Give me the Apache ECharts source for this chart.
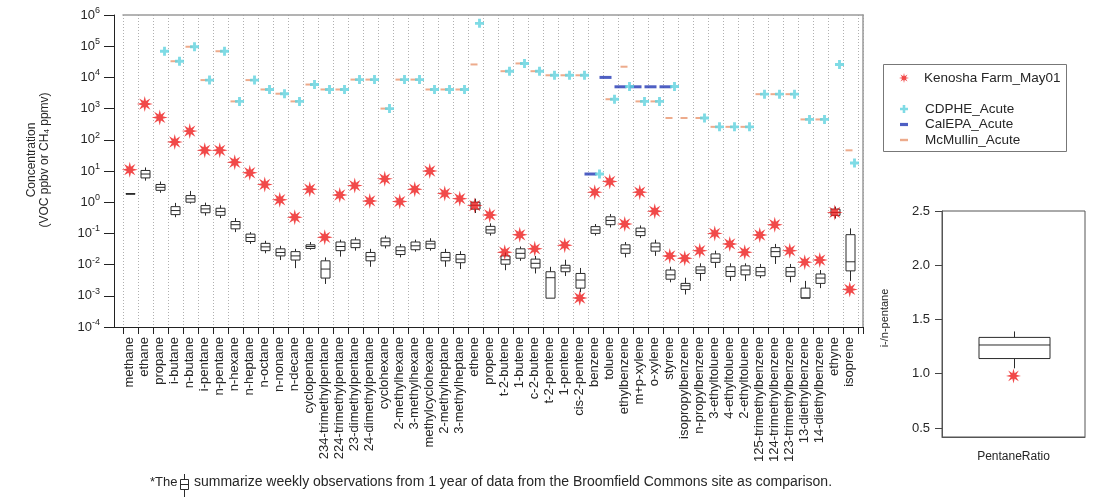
<!DOCTYPE html>
<html>
<head>
<meta charset="utf-8">
<script src="https://cdn.jsdelivr.net/npm/echarts@6/dist/echarts.min.js"></script>
<style>
  html, body { margin: 0; padding: 0; background: #fff; }
  #chart { width: 1096px; height: 500px; }
</style>
</head>
<body>
<div id="chart"></div>
<script>
// ---- data ----
const categories = [
  'methane', 'ethane', 'propane', 'i-butane', 'n-butane', 'i-pentane', 'n-pentane',
  'n-hexane', 'n-heptane', 'n-octane', 'n-nonane', 'n-decane', 'cyclopentane',
  '234-trimethylpentane', '224-trimethylpentane', '23-dimethylpentane', '24-dimethylpentane',
  'cyclohexane', '2-methylhexane', '3-methylhexane', 'methylcyclohexane', '2-methylheptane',
  '3-methylheptane', 'ethene', 'propene', 't-2-butene', '1-butene', 'c-2-butene',
  't-2-pentene', '1-pentene', 'cis-2-pentene', 'benzene', 'toluene', 'ethylbenzene',
  'm+p-xylene', 'o-xylene', 'styrene', 'isopropylbenzene', 'n-propylbenzene',
  '3-ethyltoluene', '4-ethyltoluene', '2-ethyltoluene', '125-trimethylbenzene',
  '124-trimethylbenzene', '123-trimethylbenzene', '13-diethylbenzene', '14-diethylbenzene',
  'ethyne', 'isoprene'
];

// Kenosha Farm sample, 1 May (ppbv; methane in ppmv)
const kenosha = [
  11, 1400, 520, 85, 190, 46, 46, 19, 8.8, 3.7, 1.2, 0.33, 2.6,
  0.075, 1.7, 3.4, 1.1, 5.6, 1.05, 2.6, 10, 1.9, 1.3, 0.78, 0.39,
  0.025, 0.09, 0.032, null, 0.042, 0.00085, 2.1, 4.6, 0.2, 2.1, 0.51,
  0.019, 0.016, 0.028, 0.10, 0.046, 0.025, 0.089, 0.19, 0.028, 0.012,
  0.014, 0.47, 0.0016
];

// Acute health guideline levels
const cdphe = [
  null, null, 69000, 33000, 96000, 8200, 69000, 1700, 8200, 4100, 3000, 1700, 5900,
  4100, 4100, 8500, 8500, 1000, 8500, 8500, 4100, 4100, 4100, 540000, null,
  15800, 28000, 15800, 11700, 11700, 11700, 8, 2000, 5100, 1700, 1700,
  5100, null, 500, 260, 260, 260, 2900, 2900, 2900, 450,
  450, 26000, 18
];
const calepa = [
  null, null, null, null, null, null, null, null, null, null, null, null, null,
  null, null, null, null, null, null, null, null, null, null, null, null,
  null, null, null, null, null, null, 8, 10000, 5000, 5000, 5000,
  5000, null, null, null, null, null, null, null, null, null,
  null, null, null
];
const mcmullin = [
  null, null, null, 33000, 96000, 8200, 69000, 1700, 8200, 4100, 3000, 1700, 5900,
  4100, 4100, 8500, 8500, 1000, 8500, 8500, 4100, 4100, 4100, 26000, null,
  15800, 28000, 15800, 11700, 11700, 11700, null, 2000, 22000, 1700, 1700,
  500, 500, 500, 260, 260, 260, 2900, 2900, 2900, 450,
  450, null, 46
];

// Broomfield Commons weekly observations: [low whisker, Q1, median, Q3, high whisker]
const broomfield = [
  [1.85, 1.8, 1.85, 1.9, 1.85],
  [4.9, 6.0, 8.0, 10.4, 13],
  [2.0, 2.4, 3.0, 3.7, 4.6],
  [0.33, 0.40, 0.54, 0.72, 0.95],
  [0.9, 1.0, 1.28, 1.63, 2.3],
  [0.37, 0.46, 0.61, 0.78, 0.97],
  [0.31, 0.38, 0.5, 0.64, 0.8],
  [0.11, 0.14, 0.19, 0.24, 0.31],
  [0.046, 0.055, 0.074, 0.095, 0.11],
  [0.023, 0.028, 0.037, 0.048, 0.058],
  [0.014, 0.019, 0.0245, 0.032, 0.040],
  [0.0077, 0.014, 0.019, 0.026, 0.032],
  [0.03, 0.033, 0.038, 0.043, 0.053],
  [0.0024, 0.0037, 0.0072, 0.0132, 0.017],
  [0.018, 0.028, 0.038, 0.053, 0.063],
  [0.028, 0.035, 0.048, 0.062, 0.075],
  [0.0085, 0.0132, 0.018, 0.0245, 0.032],
  [0.033, 0.04, 0.054, 0.071, 0.085],
  [0.017, 0.021, 0.028, 0.037, 0.046],
  [0.026, 0.03, 0.04, 0.053, 0.063],
  [0.028, 0.033, 0.046, 0.056, 0.07],
  [0.0085, 0.0132, 0.017, 0.0245, 0.032],
  [0.0072, 0.0115, 0.015, 0.021, 0.027],
  [0.45, 0.6, 0.8, 1.0, 1.3],
  [0.085, 0.102, 0.13, 0.168, 0.21],
  [0.0066, 0.0103, 0.0143, 0.019, 0.0245],
  [0.0132, 0.016, 0.023, 0.032, 0.038],
  [0.0052, 0.0078, 0.011, 0.015, 0.019],
  [0.00084, 0.00084, 0.0038, 0.0059, 0.0085],
  [0.0043, 0.0059, 0.0078, 0.0095, 0.0143],
  [0.0013, 0.00176, 0.0032, 0.0052, 0.0078],
  [0.085, 0.10, 0.129, 0.165, 0.2],
  [0.155, 0.19, 0.26, 0.34, 0.42],
  [0.017, 0.023, 0.032, 0.043, 0.053],
  [0.072, 0.085, 0.114, 0.148, 0.18],
  [0.019, 0.027, 0.037, 0.049, 0.063],
  [0.0027, 0.0034, 0.0047, 0.0067, 0.0085],
  [0.0011, 0.0016, 0.0021, 0.0025, 0.0038],
  [0.003, 0.0052, 0.0067, 0.0085, 0.011],
  [0.0078, 0.0118, 0.016, 0.022, 0.028],
  [0.003, 0.0042, 0.006, 0.0085, 0.011],
  [0.003, 0.0047, 0.0067, 0.0091, 0.011],
  [0.0037, 0.0044, 0.0059, 0.0081, 0.0105],
  [0.0105, 0.018, 0.026, 0.035, 0.046],
  [0.0027, 0.0042, 0.0059, 0.0081, 0.0105],
  [0.00084, 0.00084, 0.00086, 0.00176, 0.003],
  [0.00176, 0.0025, 0.0037, 0.005, 0.0067],
  [0.3, 0.38, 0.47, 0.6, 0.72],
  [0.003, 0.0063, 0.0123, 0.091, 0.145]
];

// i-/n-pentane ratio panel
const ratioCategories = ['PentaneRatio'];
const ratioBox = [1.05, 1.14, 1.265, 1.335, 1.39];
const ratioKenosha = 0.98;
const ratioTicks = [0.5, 1.0, 1.5, 2.0, 2.5];

// ---- styling helpers ----
const FONT = '"Liberation Sans", Arial, Helvetica, sans-serif';
const TEXT = '#262626';
const RED = '#ee1c1c';
const CYAN = '#5fd2de';
const BLUE = '#2237b4';
const ORANGE = '#e8966f';

function starPath(points, inner) {
  let d = '';
  for (let i = 0; i < points * 2; i++) {
    const r = i % 2 ? inner : 1;
    const a = Math.PI * i / points - Math.PI / 2;
    d += (i ? 'L' : 'M') + (r * Math.cos(a)).toFixed(3) + ',' + (r * Math.sin(a)).toFixed(3);
  }
  return 'path://' + d + 'Z';
}
const STAR = starPath(8, 0.4);
const PLUS = 'path://M-1,-0.32L-0.32,-0.32L-0.32,-1L0.32,-1L0.32,-0.32L1,-0.32L1,0.32L0.32,0.32L0.32,1L-0.32,1L-0.32,0.32L-1,0.32Z';

function pairs(arr) {
  const out = [];
  arr.forEach((v, i) => { if (v != null) out.push([i, v]); });
  return out;
}

function boxRenderer(boxWidth) {
  return function (params, api) {
    const x = api.value(0);
    const lo = api.coord([x, api.value(1)]);
    const q1 = api.coord([x, api.value(2)]);
    const md = api.coord([x, api.value(3)]);
    const q3 = api.coord([x, api.value(4)]);
    const hi = api.coord([x, api.value(5)]);
    const cx = Math.round(lo[0]) + 0.5;
    const half = boxWidth / 2;
    const st = { stroke: '#2b2b2b', lineWidth: 1 };
    return {
      type: 'group',
      children: [
        { type: 'line', shape: { x1: cx, y1: hi[1], x2: cx, y2: q3[1] }, style: st },
        { type: 'line', shape: { x1: cx, y1: q1[1], x2: cx, y2: lo[1] }, style: st },
        { type: 'rect', shape: { x: cx - half, y: q3[1], width: boxWidth, height: Math.max(q1[1] - q3[1], 0.6) },
          style: { fill: '#fff', stroke: '#2b2b2b', lineWidth: 1 } },
        { type: 'line', shape: { x1: cx - half, y1: md[1], x2: cx + half, y2: md[1] }, style: st }
      ]
    };
  };
}

const X_MIN = -0.45, X_MAX = 48.883;

const chart = echarts.init(document.getElementById('chart'), null, { renderer: 'canvas' });

const option = {
  backgroundColor: '#fff',
  animation: false,
  textStyle: { fontFamily: FONT, color: TEXT },
  grid: [
    { left: 123, top: 15, width: 740, height: 312 },
    { left: 942, top: 211, width: 143, height: 226, show: true, borderColor: '#555', borderWidth: 1 }
  ],
  xAxis: [
    {
      type: 'value', gridIndex: 0, min: X_MIN, max: X_MAX, interval: 1,
      axisLine: { show: true, onZero: false, lineStyle: { color: '#222', width: 1 } },
      axisTick: { show: true, length: 7, lineStyle: { color: '#222' } },
      splitLine: { show: true, lineStyle: { color: '#b0b0b0', type: [1, 2], width: 1 } },
      axisLabel: {
        customValues: categories.map((_, i) => i),
        formatter: v => categories[v],
        rotate: 90, fontSize: 13, margin: 10, color: TEXT, fontFamily: FONT
      }
    },
    {
      type: 'value', gridIndex: 0, position: 'top', min: X_MIN, max: X_MAX,
      axisLine: { show: true, onZero: false, lineStyle: { color: '#9a9a9a', width: 1.5 } },
      axisTick: { show: false }, axisLabel: { show: false }, splitLine: { show: false }
    },
    {
      type: 'category', gridIndex: 1, data: ratioCategories, boundaryGap: true,
      axisLine: { show: true, lineStyle: { color: '#555' } },
      axisTick: { show: false },
      axisLabel: { fontSize: 12, margin: 14, color: TEXT, fontFamily: FONT }
    }
  ],
  yAxis: [
    {
      type: 'log', gridIndex: 0, logBase: 10, min: 1e-4, max: 1e6, interval: 1, splitNumber: 10,
      offset: 9,
      axisLine: { show: true, onZero: false, lineStyle: { color: '#222' } },
      axisTick: { show: true, length: 10, lineStyle: { color: '#222' } },
      minorTick: { show: false },
      splitLine: { show: false },
      axisLabel: {
        margin: 14, color: TEXT, fontFamily: FONT,
        formatter: v => '{b|10}{s|' + Math.round(Math.log10(v)) + '}',
        rich: {
          b: { fontSize: 13, fontFamily: FONT, color: TEXT },
          s: { fontSize: 9, fontFamily: FONT, color: TEXT, padding: [0, 0, 9, 0] }
        }
      }
    },
    {
      type: 'value', gridIndex: 0, position: 'right', min: 0, max: 1,
      axisLine: { show: true, onZero: false, lineStyle: { color: '#9a9a9a', width: 1.5 } },
      axisTick: { show: false }, axisLabel: { show: false }, splitLine: { show: false }
    },
    {
      type: 'value', gridIndex: 1, min: 0.417, max: 2.5,
      axisLine: { show: true, onZero: false, lineStyle: { color: '#555' } },
      axisTick: { show: true, customValues: ratioTicks, length: 7, lineStyle: { color: '#444' } },
      axisLabel: {
        customValues: ratioTicks, formatter: v => v.toFixed(1),
        fontSize: 13, margin: 12, color: TEXT, fontFamily: FONT
      },
      splitLine: { show: false }
    }
  ],
  legend: [
    {
      selectedMode: false, orient: 'vertical', left: 894, top: 66,
      itemWidth: 10, itemHeight: 10,
      textStyle: { fontSize: 13.5, color: TEXT, fontFamily: FONT, padding: [0, 0, 0, 10] },
      data: [{ name: 'Kenosha Farm_May01', icon: STAR }]
    },
    {
      selectedMode: false, orient: 'vertical', left: 895, top: 96.5,
      itemWidth: 8, itemHeight: 8, itemGap: 0.5,
      textStyle: { fontSize: 13.5, lineHeight: 15, color: TEXT, fontFamily: FONT, padding: [0, 0, 0, 12] },
      data: [
        { name: 'CDPHE_Acute', icon: PLUS },
        { name: 'CalEPA_Acute', icon: 'path://M0,0H10V4H0Z' },
        { name: 'McMullin_Acute', icon: 'path://M0,0H10V3H0Z' }
      ]
    }
  ],
  series: [
    {
      name: 'Broomfield Commons', type: 'custom', xAxisIndex: 0, yAxisIndex: 0, z: 2,
      renderItem: boxRenderer(9),
      encode: { x: 0, y: [1, 2, 3, 4, 5] },
      data: broomfield.map((b, i) => [i].concat(b))
    },
    {
      name: 'McMullin_Acute', type: 'scatter', xAxisIndex: 0, yAxisIndex: 0, z: 3,
      symbol: 'rect', symbolSize: [7, 2], symbolOffset: [-0.75, 0],
      itemStyle: { color: ORANGE },
      data: pairs(mcmullin)
    },
    {
      name: 'CalEPA_Acute', type: 'scatter', xAxisIndex: 0, yAxisIndex: 0, z: 3,
      symbol: 'rect', symbolSize: [12, 3], symbolOffset: [-4.25, 0],
      itemStyle: { color: BLUE },
      data: pairs(calepa)
    },
    {
      name: 'CDPHE_Acute', type: 'scatter', xAxisIndex: 0, yAxisIndex: 0, z: 4,
      symbol: PLUS, symbolSize: 9, symbolOffset: [4.75, 0],
      itemStyle: { color: CYAN },
      data: pairs(cdphe)
    },
    {
      name: 'Kenosha Farm_May01', type: 'scatter', xAxisIndex: 0, yAxisIndex: 0, z: 5,
      symbol: STAR, symbolSize: 16,
      itemStyle: { color: RED },
      data: pairs(kenosha)
    },
    {
      name: 'Broomfield ratio', type: 'custom', xAxisIndex: 2, yAxisIndex: 2, z: 2,
      renderItem: boxRenderer(71),
      encode: { x: 0, y: [1, 2, 3, 4, 5] },
      data: [[0].concat(ratioBox)]
    },
    {
      name: 'Kenosha ratio', type: 'scatter', xAxisIndex: 2, yAxisIndex: 2, z: 5,
      symbol: STAR, symbolSize: 15,
      itemStyle: { color: RED },
      data: [[0, ratioKenosha]]
    }
  ],
  graphic: [
    // join of the offset left axis with the bottom axis
    { type: 'line', z: 10, shape: { x1: 114, y1: 327.5, x2: 123, y2: 327.5 }, style: { stroke: '#222', lineWidth: 1 } },
    // y-axis title of the main panel
    {
      type: 'text', x: 38, y: 160, rotation: Math.PI / 2,
      style: {
        text: 'Concentration\n(VOC ppbv or CH{sub|4} ppmv)',
        font: '12px ' + FONT, fill: TEXT, align: 'center', verticalAlign: 'middle', lineHeight: 13,
        rich: { sub: { fontSize: 8, fontFamily: FONT, fill: TEXT, padding: [5, 0, 0, 0] } }
      }
    },
    // y-axis title of the ratio panel
    {
      type: 'text', x: 885, y: 318, rotation: Math.PI / 2,
      style: { text: 'i-/n-pentane', font: '11px ' + FONT, fill: TEXT, align: 'center', verticalAlign: 'middle' }
    },
    // legend frame
    { type: 'rect', shape: { x: 883.5, y: 64.5, width: 183, height: 87 }, style: { fill: 'none', stroke: '#777', lineWidth: 1 } },
    // footnote
    {
      type: 'text', x: 150, y: 482,
      style: { text: '*The', font: '13px ' + FONT, fill: TEXT, align: 'left', verticalAlign: 'middle' }
    },
    {
      type: 'group', x: 0, y: 0,
      children: [
        { type: 'line', shape: { x1: 184.5, y1: 474, x2: 184.5, y2: 479 }, style: { stroke: '#2b2b2b', lineWidth: 1 } },
        { type: 'rect', shape: { x: 180.5, y: 479.5, width: 8, height: 10 }, style: { fill: '#fff', stroke: '#2b2b2b', lineWidth: 1 } },
        { type: 'line', shape: { x1: 180.5, y1: 484.5, x2: 188.5, y2: 484.5 }, style: { stroke: '#2b2b2b', lineWidth: 1 } },
        { type: 'line', shape: { x1: 184.5, y1: 489.5, x2: 184.5, y2: 497 }, style: { stroke: '#2b2b2b', lineWidth: 1 } }
      ]
    },
    {
      type: 'text', x: 194, y: 482,
      style: {
        text: 'summarize weekly observations from 1 year of data from the Broomfield Commons site as comparison.',
        font: '14px ' + FONT, fill: TEXT, align: 'left', verticalAlign: 'middle'
      }
    }
  ]
};

chart.setOption(option);
</script>
</body>
</html>
